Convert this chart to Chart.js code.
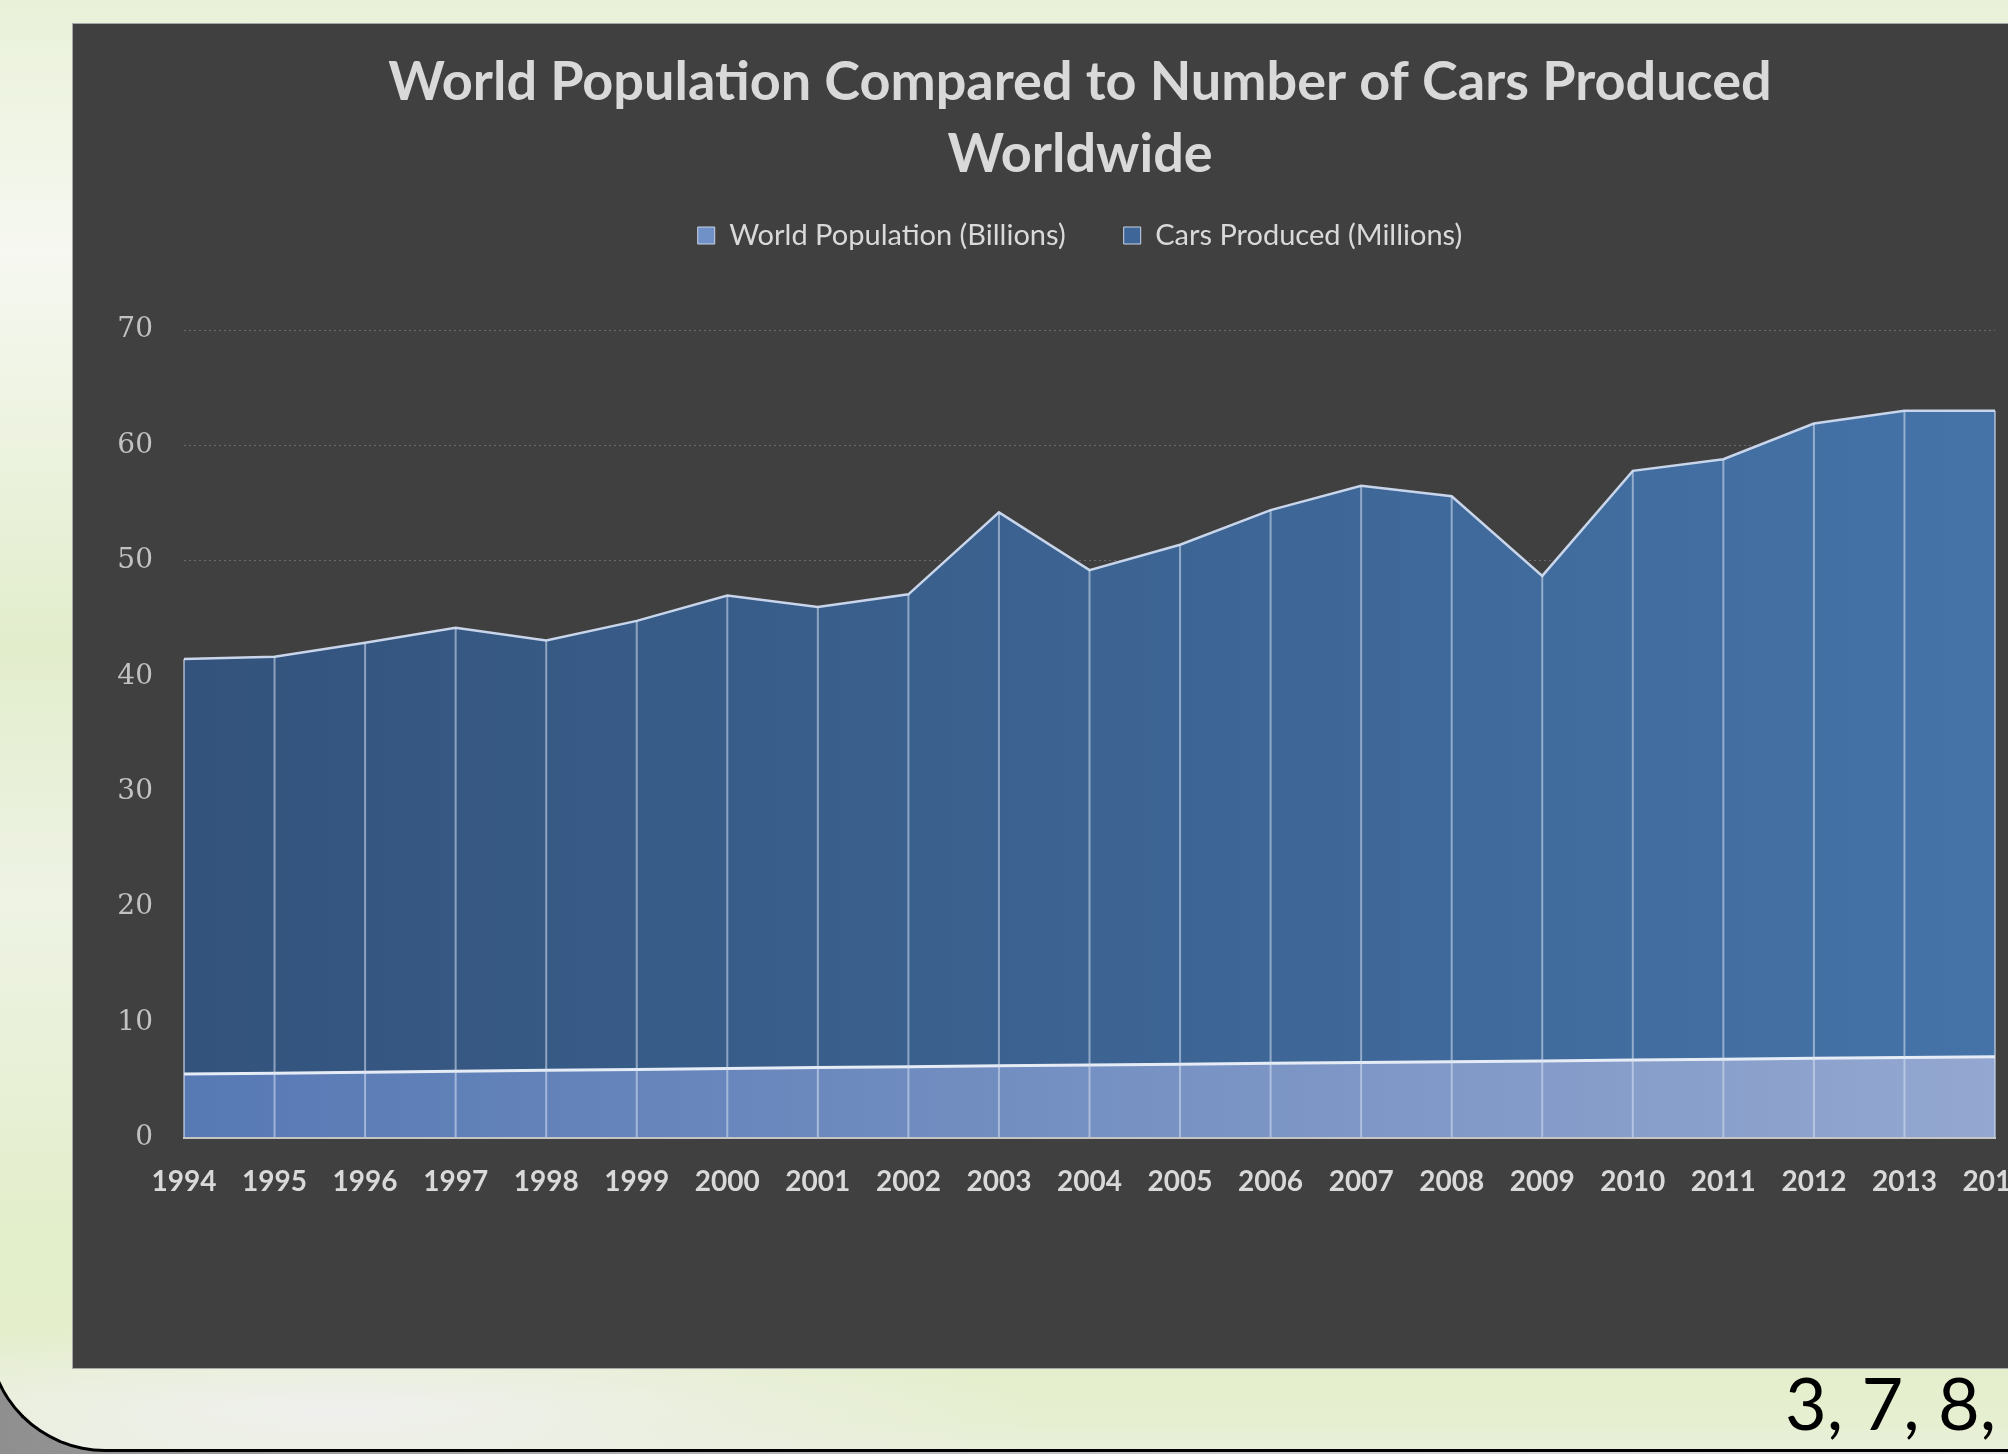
<!DOCTYPE html>
<html>
<head>
<meta charset="utf-8">
<script src="https://cdn.jsdelivr.net/npm/chart.js@4.4.1/dist/chart.umd.min.js"></script>
<style>
    html, body {
        margin: 0;
        width: 2008px;
        height: 1454px;
        overflow: hidden;
        background: linear-gradient(90deg, #8f8f8f 0%, #c9c9c9 60%, #e8e8e8 100%);
        font-family: Lato, sans-serif;
    }
    #slide {
        position: absolute;
        left: -13px;
        top: -10px;
        width: 2100px;
        height: 1459px;
        border-left: 3px solid #000;
        border-bottom: 3px solid #000;
        border-bottom-left-radius: 118px;
        background:
            radial-gradient(ellipse 700px 90px at 350px 1420px, rgba(240, 240, 240, 0.95), rgba(240, 240, 240, 0)),
            linear-gradient(180deg, #e9f1d8 0%, #f6f8f1 18%, #e2edcc 45%, #eef3e4 62%, #e3eecb 85%, #e4eecb 94%, #e6efd0 98%, #e9efdb 100%);
    }
    #panel {
        position: absolute;
        left: 72px;
        top: 23px;
        width: 2014px;
        height: 1344px;
        background: #404040;
        border: 1px solid #a8a8a8;
    }
    #pageNo {
        position: absolute;
        left: 1785px;
        top: 1366px;
        font-size: 72px;
        line-height: 1;
        color: #000;
        white-space: nowrap;
    }
</style>
</head>
<body>
<div id="slide"></div>
<div id="panel"><canvas id="areaChart"></canvas></div>
<div id="pageNo">3, 7, 8,</div>
<script>
// chart data
const years = ['1994', '1995', '1996', '1997', '1998', '1999', '2000', '2001', '2002', '2003',
    '2004', '2005', '2006', '2007', '2008', '2009', '2010', '2011', '2012', '2013', '2014'];
const population = [5.54, 5.62, 5.70, 5.78, 5.86, 5.94, 6.02, 6.10, 6.18, 6.26,
    6.33, 6.40, 6.47, 6.54, 6.61, 6.68, 6.76, 6.83, 6.90, 6.97, 7.04];
const cars = [41.5, 41.7, 42.9, 44.2, 43.1, 44.8, 47.0, 46.0, 47.1, 54.2,
    49.2, 51.4, 54.4, 56.5, 55.6, 48.7, 57.8, 58.8, 61.9, 63.0, 63.0];
const yTicks = [0, 10, 20, 30, 40, 50, 60, 70];

// left-to-right gradient across the plot area
function hGradient(from, to) {
    return function(context) {
        const area = context.chart.chartArea;
        if (!area) return from;
        const g = context.chart.ctx.createLinearGradient(area.left, 0, area.right, 0);
        g.addColorStop(0, from);
        g.addColorStop(1, to);
        return g;
    };
}

// white drop lines from each point down to the axis
const dropLines = {
    id: 'dropLines',
    afterDatasetsDraw(chart) {
        const ctx = chart.ctx;
        const x = chart.scales.x;
        const y = chart.scales.y;
        ctx.save();
        ctx.strokeStyle = 'rgba(215, 226, 242, 0.55)';
        ctx.lineWidth = 2;
        cars.forEach(function(v, i) {
            const px = x.getPixelForValue(i);
            ctx.beginPath();
            ctx.moveTo(px, y.getPixelForValue(v));
            ctx.lineTo(px, y.getPixelForValue(0));
            ctx.stroke();
        });
        ctx.restore();
    }
};

function draw() {
    const ctx = document.getElementById('areaChart').getContext('2d');
    new Chart(ctx, {
        type: 'line',
        data: {
            labels: years,
            datasets: [{
                label: 'World Population (Billions)',
                data: population,
                fill: 'origin',
                backgroundColor: hGradient('#5779b4', '#93a7d0'),
                borderColor: '#e6ecf6',
                borderWidth: 3,
                pointRadius: 0,
                tension: 0
            }, {
                label: 'Cars Produced (Millions)',
                data: cars,
                fill: 'origin',
                backgroundColor: hGradient('#33537c', '#4573a8'),
                borderColor: '#c8d5ea',
                borderWidth: 2.5,
                pointRadius: 0,
                tension: 0
            }]
        },
        options: {
            responsive: true,
            maintainAspectRatio: false,
            animation: false,
            layout: { padding: 0 },
            plugins: {
                title: {
                    display: true,
                    text: ['World Population Compared to Number of Cars Produced', 'Worldwide'],
                    color: '#d9d9d9',
                    font: { family: 'Lato', size: 54, weight: 'bold', lineHeight: '72px' },
                    padding: { top: 23, bottom: -28 }
                },
                subtitle: {
                    // empty spacer between legend and plot
                    display: true,
                    text: '',
                    weight: 500,
                    font: { size: 1, lineHeight: '0px' },
                    padding: { top: 70, bottom: 0 }
                },
                legend: {
                    display: true,
                    labels: {
                        color: '#d9d9d9',
                        font: { family: 'Lato', size: 29 },
                        boxWidth: 17,
                        boxHeight: 17,
                        padding: 58,
                        generateLabels: function(chart) {
                            const fills = ['#7090c8', '#3e6699'];
                            return chart.data.datasets.map(function(ds, i) {
                                return {
                                    text: ds.label,
                                    fillStyle: fills[i],
                                    strokeStyle: '#c9d4e6',
                                    lineWidth: 1,
                                    fontColor: '#d9d9d9',
                                    datasetIndex: i,
                                    hidden: false
                                };
                            });
                        }
                    }
                },
                tooltip: { enabled: false }
            },
            scales: {
                x: {
                    offset: false,
                    grid: { display: false },
                    border: { display: true, color: '#c4c4c4', width: 2, z: 1 },
                    ticks: {
                        color: '#d9d9d9',
                        font: { family: 'Lato', size: 28, weight: 'bold' },
                        padding: 19,
                        maxRotation: 0,
                        autoSkip: false
                    },
                    afterFit: function(scale) { scale.height = 230; }
                },
                y: {
                    min: 0,
                    max: 70,
                    afterBuildTicks: function(scale) {
                        scale.ticks = yTicks.map(function(v) { return { value: v }; });
                    },
                    grid: { color: '#6a6a6a', lineWidth: 1, drawTicks: false },
                    border: { display: false, dash: [2, 3] },
                    ticks: {
                        color: '#c2c2c2',
                        font: { family: 'DejaVu Serif', size: 28 },
                        padding: 31
                    },
                    afterFit: function(scale) { scale.width = 111; }
                },
                // empty right margin so the title and legend stay centred on the panel
                yRight: {
                    position: 'right',
                    min: 0,
                    max: 70,
                    grid: { display: false },
                    border: { display: false },
                    ticks: { display: false },
                    afterFit: function(scale) { scale.width = 92; }
                }
            }
        },
        plugins: [dropLines]
    });
}

Promise.all([
    document.fonts.load('bold 54px Lato'),
    document.fonts.load('29px Lato'),
    document.fonts.load('28px "DejaVu Serif"')
]).then(draw, draw);
</script>
</body>
</html>
